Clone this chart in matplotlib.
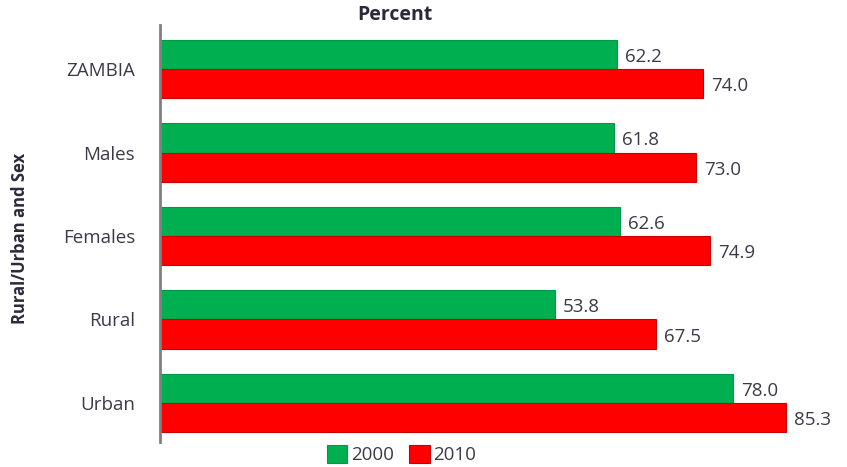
import numpy as np
import matplotlib.pyplot as plt

categories = ["ZAMBIA", "Males", "Females", "Rural", "Urban"]
values_2000 = [62.2, 61.8, 62.6, 53.8, 78.0]
values_2010 = [74.0, 73.0, 74.9, 67.5, 85.3]

green = "#00B050"
red = "#FF0000"
text_col = "#3a3a4a"

plt.rcParams["font.family"] = ["Open Sans", "DejaVu Sans"]

fig = plt.figure(figsize=(8.47, 4.67), dpi=100)
ax = fig.add_axes([0.189, 0.054, 0.78, 0.892])

y = np.arange(len(categories))
h = 0.35
b1 = ax.barh(y - h / 2, values_2000, height=h, color=green, edgecolor="#00994a", linewidth=0.8, label="2000")
b2 = ax.barh(y + h / 2, values_2010, height=h, color=red, edgecolor="#c80000", linewidth=0.8, label="2010")

# value labels at bar ends
for bars, vals in ((b1, values_2000), (b2, values_2010)):
    for bar, v in zip(bars, vals):
        ax.text(v + 1.1, bar.get_y() + bar.get_height() / 2 + 0.03, f"{v:.1f}",
                va="center", ha="left", fontsize=13.5, color=text_col)

ax.set_xlim(0, 90)
ax.set_ylim(4.467, -0.527)
ax.set_yticks(y)
ax.set_yticklabels(categories, fontsize=13.5, color=text_col)
ax.tick_params(axis="y", length=0, pad=18)
ax.set_xticks([])
for s in ("top", "right", "bottom"):
    ax.spines[s].set_visible(False)
ax.spines["left"].set_color("#808080")
ax.spines["left"].set_linewidth(2)

ax.set_title("Percent", fontsize=14, fontweight="bold", color="#2a2a3a", pad=2, x=0.355)
fig.text(0.024, 0.49, "Rural/Urban and Sex", rotation=90, va="center", ha="center",
         fontsize=12, fontweight="bold", color="#2a2a3a")

fig.legend(loc="lower center", bbox_to_anchor=(0.474, -0.03), ncol=2, frameon=False,
           fontsize=13.5, handlelength=1.1, handleheight=1.1, handletextpad=0.2, columnspacing=0.8,
           labelcolor=text_col)

plt.savefig("out.png", dpi=100)
